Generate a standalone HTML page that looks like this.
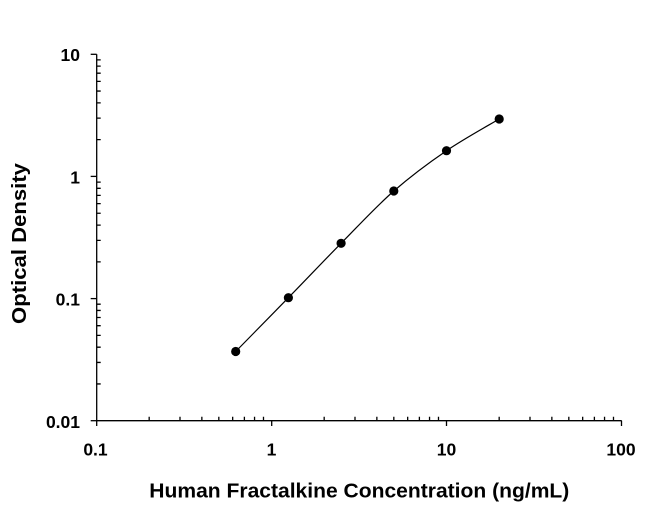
<!DOCTYPE html>
<html>
<head>
<meta charset="utf-8">
<style>
  html, body { margin: 0; padding: 0; background: #fff; }
  svg { display: block; }
  text { font-family: "Liberation Sans", Arial, sans-serif; fill: #000; }
</style>
</head>
<body>
<svg width="650" height="505" viewBox="0 0 650 505" xmlns="http://www.w3.org/2000/svg">
  <rect x="0" y="0" width="650" height="505" fill="#fff"/>
  <g stroke="#000" stroke-width="1.3" fill="none">
    <!-- axes -->
    <line x1="96.7" y1="54.3" x2="96.7" y2="421.3"/>
    <line x1="96.1" y1="420.7" x2="621.7" y2="420.7"/>
    <!-- y major ticks (left) -->
    <line x1="90.7" y1="54.3" x2="96.7" y2="54.3"/>
    <line x1="90.7" y1="176.4" x2="96.7" y2="176.4"/>
    <line x1="90.7" y1="298.6" x2="96.7" y2="298.6"/>
    <line x1="90.7" y1="420.7" x2="96.7" y2="420.7"/>
    <!-- y minor ticks (right) -->
    <path d="M96.7 383.94h4 M96.7 362.44h4 M96.7 347.19h4 M96.7 335.36h4 M96.7 325.69h4 M96.7 317.51h4 M96.7 310.43h4 M96.7 304.19h4
             M96.7 261.84h4 M96.7 240.34h4 M96.7 225.09h4 M96.7 213.26h4 M96.7 203.59h4 M96.7 195.41h4 M96.7 188.33h4 M96.7 182.09h4
             M96.7 139.64h4 M96.7 118.14h4 M96.7 102.89h4 M96.7 91.06h4 M96.7 81.39h4 M96.7 73.21h4 M96.7 66.13h4 M96.7 59.89h4"/>
    <!-- x major ticks (down) -->
    <line x1="96.7" y1="420.7" x2="96.7" y2="426"/>
    <line x1="271.7" y1="420.7" x2="271.7" y2="426"/>
    <line x1="446.5" y1="420.7" x2="446.5" y2="426"/>
    <line x1="621.5" y1="420.7" x2="621.5" y2="426"/>
    <!-- x minor ticks (up) -->
    <path d="M149.18 420.7v-4 M180.0 420.7v-4 M201.86 420.7v-4 M218.82 420.7v-4 M232.68 420.7v-4 M244.39 420.7v-4 M254.54 420.7v-4 M263.49 420.7v-4
             M324.18 420.7v-4 M355.0 420.7v-4 M376.86 420.7v-4 M393.82 420.7v-4 M407.68 420.7v-4 M419.39 420.7v-4 M429.54 420.7v-4 M438.49 420.7v-4
             M499.18 420.7v-4 M530.0 420.7v-4 M551.86 420.7v-4 M568.82 420.7v-4 M582.68 420.7v-4 M594.39 420.7v-4 M604.54 420.7v-4 M613.49 420.7v-4"/>
  </g>

  <!-- curve -->
  <path d="M235.7 351.5 C244.5 342.5 270.8 315.7 288.4 297.7 C306.0 279.7 323.5 261.1 341.1 243.3 C358.7 225.5 376.2 206.4 393.8 191 C411.4 175.6 428.9 162.7 446.5 150.7 C464.1 138.7 490.4 124.3 499.2 119"
        stroke="#000" stroke-width="1.2" fill="none"/>

  <!-- points -->
  <g fill="#000">
    <circle cx="235.7" cy="351.5" r="4.6"/>
    <circle cx="288.4" cy="297.7" r="4.6"/>
    <circle cx="341.1" cy="243.3" r="4.6"/>
    <circle cx="393.8" cy="191" r="4.6"/>
    <circle cx="446.5" cy="150.7" r="4.6"/>
    <circle cx="499.2" cy="119" r="4.6"/>
  </g>

  <!-- y tick labels -->
  <g font-size="17.5" font-weight="bold" text-anchor="end">
    <text x="80" y="61.2">10</text>
    <text x="80" y="183.3">1</text>
    <text x="80" y="305.5">0.1</text>
    <text x="80" y="427.8">0.01</text>
  </g>
  <!-- x tick labels -->
  <g font-size="17.5" font-weight="bold" text-anchor="middle">
    <text x="95.5" y="455.7">0.1</text>
    <text x="271.5" y="455.7">1</text>
    <text x="446.5" y="455.7">10</text>
    <text x="621" y="455.7">100</text>
  </g>

  <!-- axis titles -->
  <text x="149.3" y="497.3" font-size="20.5" font-weight="bold" textLength="420" lengthAdjust="spacingAndGlyphs">Human Fractalkine Concentration (ng/mL)</text>
  <text transform="translate(26,324) rotate(-90)" x="0" y="0" font-size="20.5" font-weight="bold" textLength="161" lengthAdjust="spacingAndGlyphs">Optical Density</text>
</svg>
</body>
</html>
